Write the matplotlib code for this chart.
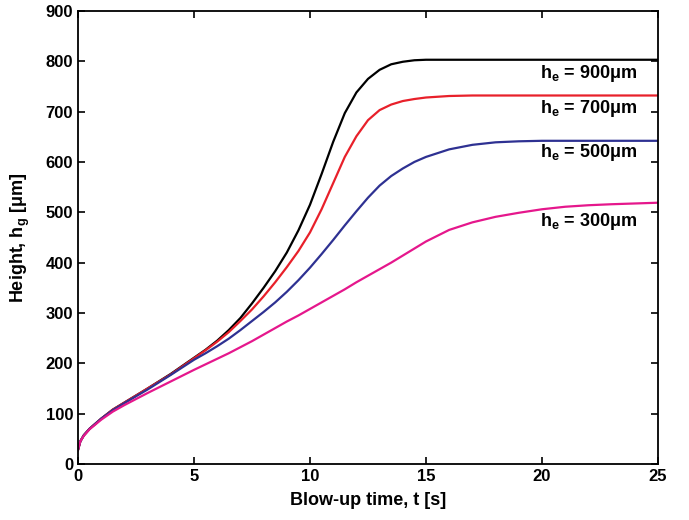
import matplotlib
matplotlib.use('Agg')
import matplotlib.pyplot as plt

plt.rcParams['font.family'] = ['Liberation Sans', 'DejaVu Sans']
plt.rcParams['font.weight'] = 'bold'
plt.rcParams['mathtext.fontset'] = 'custom'
plt.rcParams['mathtext.rm'] = 'Liberation Sans:bold'
plt.rcParams['mathtext.bf'] = 'Liberation Sans:bold'
plt.rcParams['mathtext.it'] = 'Liberation Sans:bold'

# blow-up time [s]
t = [0, 0.1, 0.25, 0.5, 1, 1.5, 2, 3, 4, 5, 5.5, 6, 6.5, 7, 7.5, 8, 8.5, 9, 9.5,
     10, 10.5, 11, 11.5, 12, 12.5, 13, 13.5, 14, 14.5, 15, 16, 17, 18, 19, 20,
     21, 22, 23, 25]

# height h_g [um] for each initial thickness h_e
h_900 = [28, 45, 57, 70, 90, 108, 122, 150, 179, 211, 227, 245, 266, 290, 319,
         350, 383, 420, 464, 515, 576, 640, 697, 738, 765, 783, 794, 799, 802,
         803, 803, 803, 803, 803, 803, 803, 803, 803, 803]
h_700 = [28, 45, 57, 70, 90, 108, 122, 150, 178, 210, 226, 243, 262, 284, 307,
         333, 361, 391, 423, 460, 506, 558, 610, 651, 683, 703, 714, 721, 725,
         728, 731, 732, 732, 732, 732, 732, 732, 732, 732]
h_500 = [28, 45, 57, 70, 90, 107, 121, 148, 177, 207, 220, 234, 249, 266, 284,
         302, 321, 342, 365, 390, 417, 445, 474, 502, 529, 553, 572, 587, 600,
         610, 625, 634, 639, 641, 642, 642, 642, 642, 642]
h_300 = [28, 45, 56, 69, 88, 104, 117, 141, 164, 187, 198, 209, 220, 232, 244,
         257, 270, 283, 295, 308, 321, 334, 347, 361, 374, 387, 400, 414, 428,
         442, 465, 480, 491, 499, 506, 511, 514, 516, 519]

series = [
    (h_900, 'black', r'h$_{\mathbf{e}}$ = 900μm', 776),
    (h_700, '#e8202a', r'h$_{\mathbf{e}}$ = 700μm', 707),
    (h_500, '#2e3192', r'h$_{\mathbf{e}}$ = 500μm', 618),
    (h_300, '#e5178c', r'h$_{\mathbf{e}}$ = 300μm', 481),
]

fig = plt.figure(figsize=(6.89, 5.2), dpi=100)
ax = fig.add_axes([0.1132, 0.1077, 0.8418, 0.8713])

for h, color, label, label_y in series:
    ax.plot(t, h, color=color, lw=1.6)
    ax.text(24.1, label_y, label, ha='right', va='center', fontsize=13, fontweight='bold')

ax.set_xlim(0, 25)
ax.set_ylim(0, 900)
ax.set_xticks([0, 5, 10, 15, 20, 25])
ax.set_yticks(range(0, 901, 100))
ax.tick_params(direction='in', top=True, right=True, labelsize=12, width=1.2, length=5)
for lbl in ax.get_xticklabels() + ax.get_yticklabels():
    lbl.set_fontweight('bold')
for sp in ax.spines.values():
    sp.set_linewidth(1.3)

ax.set_xlabel('Blow-up time, t [s]', fontsize=13, fontweight='bold', labelpad=6)
ax.set_ylabel(r'Height, h$_{\mathbf{g}}$ [μm]', fontsize=13, fontweight='bold', labelpad=10)

fig.savefig('out.png', dpi=100)
